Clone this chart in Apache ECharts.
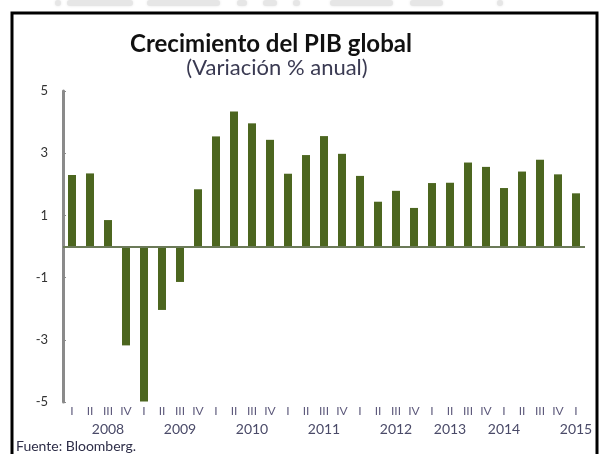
<!DOCTYPE html>
<html>
<head>
<meta charset="utf-8">
<script src="https://cdn.jsdelivr.net/npm/echarts@6/dist/echarts.min.js"></script>
<style>html,body{margin:0;padding:0;background:#fff}#c{width:600px;height:454px}</style>
</head>
<body>
<div id="c"></div>
<script>
const quarters = ['I','II','III','IV','I','II','III','IV','I','II','III','IV','I','II','III','IV','I','II','III','IV','I','II','III','IV','I','II','III','IV','I'];
const yearLabels = ['','','2008','','','','2009','','','','2010','','','','2011','','','','2012','','','2013','','','2014','','','','2015'];
const gdpGrowth = [2.3,2.35,0.85,-3.18,-4.98,-2.04,-1.14,1.84,3.54,4.34,3.96,3.43,2.34,2.94,3.55,2.98,2.27,1.44,1.79,1.24,2.04,2.05,2.7,2.56,1.88,2.41,2.79,2.32,1.71];
const yTicks = [-5,5,2];

const chart = echarts.init(document.getElementById('c'), null, {renderer:'canvas'});
const cats = quarters.map((q,i)=>i+'');
const deco = [[55,6],[67,66],[147,73],[237,10],[263,14],[293,7],[330,63],[410,33],[497,6]];
chart.setOption({
  backgroundColor:'#fff',
  animation:false,
  grid:{left:63,right:15,top:91,bottom:52},
  xAxis:[{
    type:'category', data:cats, position:'bottom', axisLine:{show:false,onZero:false}, axisTick:{show:false},
    axisLabel:{formatter:(v,i)=>quarters[i], color:'#5e5a7c', fontFamily:'Lato', fontSize:12, margin:3, interval:0}
  },{
    type:'category', data:cats, position:'bottom', offset:17, axisLine:{show:false,onZero:false}, axisTick:{show:false},
    axisLabel:{formatter:(v,i)=>yearLabels[i], color:'#4a4a68', fontFamily:'Lato', fontSize:14, margin:3, interval:0}
  }],
  yAxis:{
    type:'value', min:yTicks[0], max:yTicks[1], interval:yTicks[2],
    axisLine:{show:true, lineStyle:{color:'#8a8a8a', width:3}},
    axisTick:{show:true, inside:true, length:3, lineStyle:{color:'#8a8a8a', width:1}},
    splitLine:{show:false},
    axisLabel:{color:'#333', fontFamily:'Lato', fontSize:13, margin:15}
  },
  series:[{
    type:'bar', data:gdpGrowth, barWidth:8, xAxisIndex:0,
    itemStyle:{color:'#4c661f'},
    markLine:{silent:true, symbol:'none', label:{show:false}, lineStyle:{color:'#6b7a58', width:2, type:'solid'}, data:[{yAxis:0}]}
  }],
  graphic:[
    ...deco.map(d=>({type:'rect', shape:{x:d[0], y:0, width:d[1], height:6, r:3}, style:{fill:'#e6e6e6', shadowBlur:3, shadowColor:'#e6e6e6'}})),
    {type:'rect', shape:{x:12, y:13, width:585, height:460}, style:{fill:'none', stroke:'#000', lineWidth:3}},
    {type:'text', x:271, y:32, style:{text:'Crecimiento del PIB global', fontFamily:'Lato', fontWeight:'bold', fontSize:24, fill:'#111', align:'center', verticalAlign:'top'}},
    {type:'text', x:277, y:57, style:{text:'(Variación % anual)', fontFamily:'Lato', fontSize:22, fill:'#3a3a52', align:'center', verticalAlign:'top'}},
    {type:'text', x:16, y:439, style:{text:'Fuente: Bloomberg.', fontFamily:'Lato', fontSize:14, fill:'#2e2e48', align:'left', verticalAlign:'top'}}
  ]
});
</script>
</body>
</html>
